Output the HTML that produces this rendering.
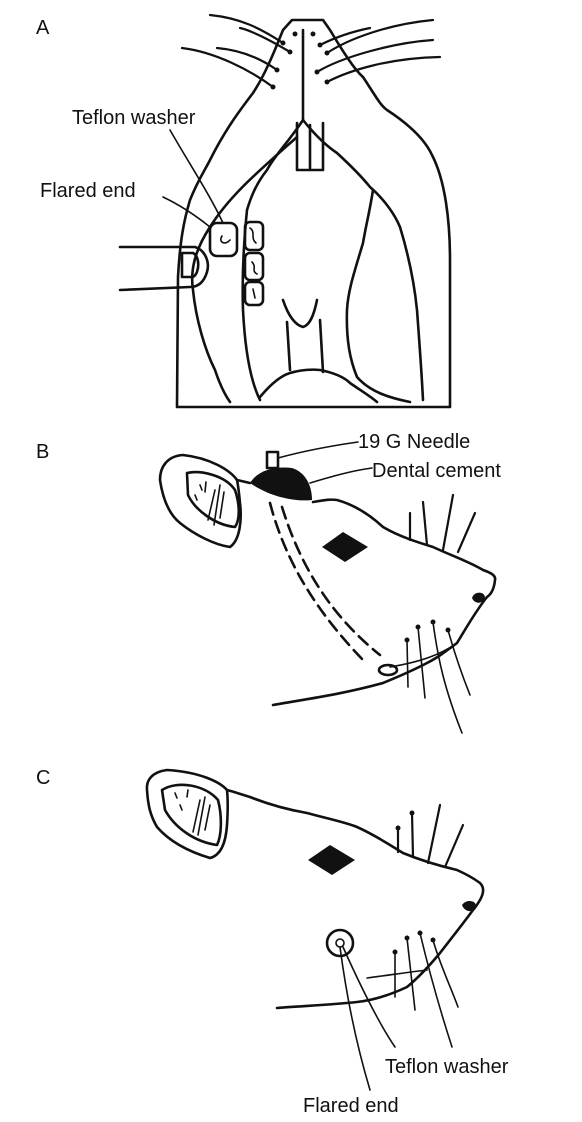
<!DOCTYPE html>
<html><head><meta charset="utf-8"><style>
html,body{margin:0;padding:0;background:#fff;}
svg{display:block;}
text{font-family:"Liberation Sans",Arial,sans-serif;font-size:20px;fill:#111;}
.s{fill:none;stroke:#111;stroke-width:2.6;stroke-linecap:round;stroke-linejoin:round;}
.t{fill:none;stroke:#111;stroke-width:1.6;stroke-linecap:round;}
.w{fill:none;stroke:#111;stroke-width:2.2;stroke-linecap:round;}
</style></head><body>
<svg width="582" height="1122" viewBox="0 0 582 1122">
<!-- Panel A -->
<g>
<text x="36" y="34">A</text>
<path class="s" d="M292,20 L323,20 L330,30 C345,55 355,70 363,77 C375,95 380,105 387,110 C410,125 425,140 432,155 C445,180 450,220 450,260 L450,407 L177,407 L178,277 C180,240 184,220 190,200 C198,180 205,170 210,160 C225,130 240,110 253,93 C265,75 275,50 283,30 Z"/>
<path class="s" d="M303,30 L303,120"/>
<path class="s" d="M303,120 C290,140 275,155 267,170 C255,185 250,200 247,210 C243,250 242,280 243,310 C245,350 250,380 260,400"/>
<path class="s" d="M303,120 C315,135 325,145 337,153 C350,165 362,177 370,187 C385,200 395,215 400,227 C410,260 415,290 417,310 C420,350 422,380 423,400"/>
<path class="s" d="M297,137 C260,170 230,195 210,227 C195,250 190,270 193,290 C196,320 205,350 215,370 C220,385 225,395 230,402"/>
<path class="s" d="M373,190 C370,210 366,225 363,243 C355,270 348,290 347,310 C346,340 350,360 357,377 C370,392 390,398 410,402"/>
<path class="s" d="M297,123 L297,170 L323,170 L323,123 M310,125 L310,168"/>
<path class="s" d="M260,397 C270,385 280,376 290,373 C300,370 310,369 320,370 C335,373 345,378 350,383 C360,390 370,396 377,402"/>
<path class="s" d="M283,300 C288,315 295,325 303,327 C310,325 314,315 317,300 M287,322 L290,370 M320,320 L323,372"/>
<path class="s" d="M120,247 L195,247 C205,250 210,262 207,272 C204,282 198,287 190,287 L120,290"/>
<path class="s" d="M182,253 L193,253 C200,256 200,273 193,277 L182,277 Z"/>
<rect class="s" x="210" y="223" width="27" height="33" rx="7"/>
<path class="t" d="M222,236 C218,242 225,246 230,240"/>
<rect class="s" x="245" y="222" width="18" height="28" rx="5"/>
<rect class="s" x="245" y="253" width="18" height="27" rx="5"/>
<rect class="s" x="245" y="282" width="18" height="23" rx="5"/>
<path class="t" d="M250,228 C256,232 250,238 256,243 M252,262 C257,267 251,271 257,274 M253,289 L255,298"/>
<path class="w" d="M273,87 C250,70 215,52 182,48 M277,70 C260,58 240,50 217,48 M283,43 C260,28 240,18 210,15 M290,52 C270,40 250,30 240,28"/>
<path class="w" d="M327,82 C350,70 390,58 440,57 M317,72 C340,58 390,43 433,40 M327,53 C350,38 390,24 433,20 M320,45 C340,35 360,30 370,28"/>
<g fill="#111"><circle cx="273" cy="87" r="2.5"/><circle cx="277" cy="70" r="2.5"/><circle cx="283" cy="43" r="2.5"/><circle cx="290" cy="52" r="2.5"/><circle cx="295" cy="34" r="2.5"/><circle cx="327" cy="82" r="2.5"/><circle cx="317" cy="72" r="2.5"/><circle cx="327" cy="53" r="2.5"/><circle cx="320" cy="45" r="2.5"/><circle cx="313" cy="34" r="2.5"/></g>
<path class="t" d="M170,130 C190,165 210,195 223,223"/>
<path class="t" d="M163,197 C180,205 195,215 210,227"/>
<text x="72" y="124">Teflon washer</text>
<text x="40" y="197">Flared end</text>
</g>
<!-- Panel B -->
<g>
<text x="36" y="458">B</text>
<path class="s" d="M237,480 C230,470 210,458 183,455 C168,456 160,466 160,480 C163,500 170,515 180,523 C195,535 215,545 230,547 C240,540 242,520 240,503 C239,492 238,485 237,480"/>
<path class="s" d="M187,473 C200,470 225,475 235,490 C240,505 240,520 235,527 C215,525 195,510 188,495 Z"/>
<path class="t" d="M200,485 L202,490 M206,482 L205,492 M195,495 L197,500 M215,490 L208,520 M220,485 L214,525 M224,492 L220,518"/>
<path class="s" d="M237,480 L250,483 M313,502 C325,500 330,499 337,500 C355,505 370,515 383,527 C400,537 420,543 433,547 C450,555 470,562 483,570 C492,573 496,576 495,580 C494,590 490,595 487,597 C475,612 465,630 457,643 C445,652 437,658 427,663 C410,672 395,678 383,683 C340,695 300,700 273,705"/>
<path d="M250,483 C258,470 275,466 292,468 C305,472 312,485 312,500 C295,502 270,497 250,483 Z" fill="#111"/>
<rect class="s" x="267" y="452" width="11" height="16"/>
<path d="M322,547 L343,532 L368,547 L345,562 Z" fill="#111"/>
<path d="M472,598 C474,591 484,591 485,597 C484,604 475,605 472,598 Z" fill="#111"/>
<path class="s" d="M270,503 C285,560 315,610 363,660 M282,507 C300,565 330,615 380,655" stroke-dasharray="12 7"/>
<ellipse class="s" cx="388" cy="670" rx="9" ry="5"/>
<path class="w" d="M410,540 L410,513 M427,545 L423,502 M443,550 L453,495 M458,552 L475,513"/>
<path class="t" d="M407,640 L408,687 M418,627 L425,698 M433,622 C438,660 445,690 462,733 M448,630 C455,655 462,675 470,695 M390,667 C420,662 440,655 457,643"/>
<g fill="#111"><circle cx="407" cy="640" r="2.5"/><circle cx="418" cy="627" r="2.5"/><circle cx="433" cy="622" r="2.5"/><circle cx="448" cy="630" r="2.5"/></g>
<path class="t" d="M278,458 C300,452 330,446 358,442 M310,483 C330,477 350,471 372,468"/>
<text x="358" y="448">19 G Needle</text>
<text x="372" y="477">Dental cement</text>
</g>
<!-- Panel C -->
<g>
<text x="36" y="784">C</text>
<path class="s" d="M227,790 C220,782 200,772 167,770 C152,772 146,780 147,790 C148,805 150,815 157,827 C170,842 190,852 210,858 C222,855 226,840 227,825 C228,810 228,800 227,790"/>
<path class="s" d="M162,790 C178,780 205,785 218,800 C222,815 222,835 217,845 C195,842 175,828 165,810 Z"/>
<path class="t" d="M175,793 L177,798 M180,805 L182,810 M188,790 L187,797 M200,800 L193,832 M205,797 L198,835 M210,805 L205,830"/>
<path class="s" d="M227,790 C235,792 243,795 250,797 C270,805 290,810 307,813 C325,818 345,822 357,827 C375,835 390,845 403,853 C420,860 440,866 457,870 C468,875 476,880 480,883 C484,887 484,893 480,900 C477,905 475,908 473,910 C462,925 450,940 440,953 C430,965 418,978 407,987 C390,995 375,1000 357,1002 C330,1005 300,1006 277,1008"/>
<path d="M308,860 L330,845 L355,860 L332,875 Z" fill="#111"/>
<path d="M462,905 C466,899 476,900 476,906 C474,913 465,913 462,905 Z" fill="#111"/>
<circle class="s" cx="340" cy="943" r="13"/>
<circle class="t" cx="340" cy="943" r="4"/>
<path class="w" d="M398,828 L398,852 M412,813 L413,857 M440,805 L428,863 M463,825 L445,867"/>
<path class="t" d="M395,952 L395,997 M407,938 L415,1010 M420,933 C430,975 440,1010 452,1047 M433,940 C440,965 450,985 458,1007 M367,978 C390,975 410,972 427,970"/>
<g fill="#111"><circle cx="398" cy="828" r="2.5"/><circle cx="412" cy="813" r="2.5"/><circle cx="395" cy="952" r="2.5"/><circle cx="407" cy="938" r="2.5"/><circle cx="420" cy="933" r="2.5"/><circle cx="433" cy="940" r="2.5"/></g>
<path class="t" d="M343,947 C360,985 380,1025 395,1047 M340,947 C347,1000 358,1050 370,1090"/>
<text x="385" y="1073">Teflon washer</text>
<text x="303" y="1112">Flared end</text>
</g>
</svg>
</body></html>
